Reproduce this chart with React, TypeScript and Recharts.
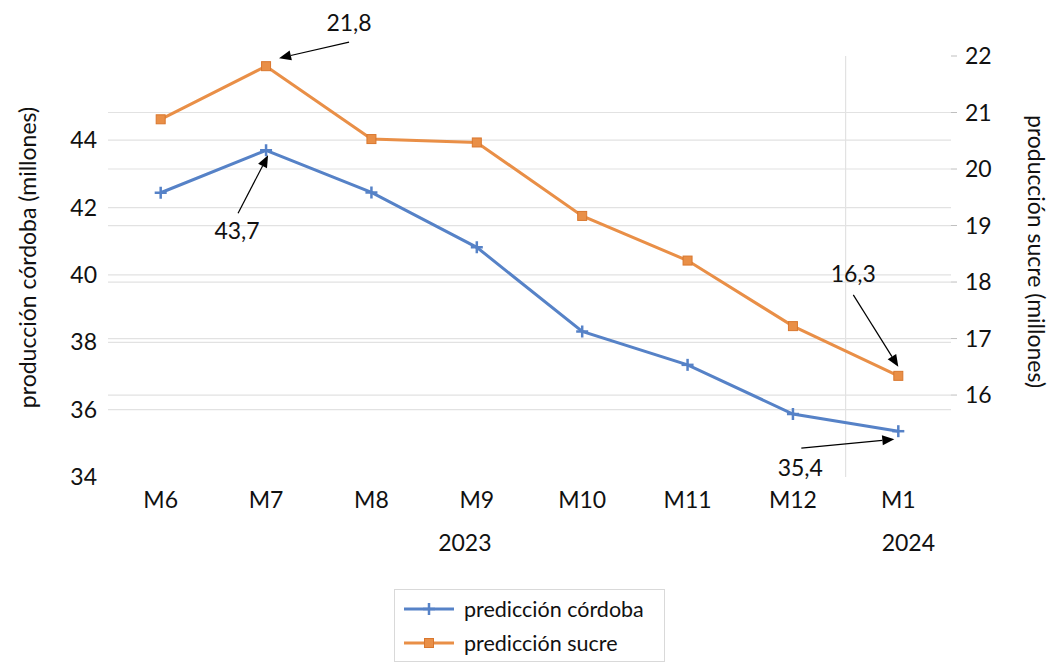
import React from "react";
import {
  LineChart, Line, XAxis, YAxis, ReferenceLine, Legend, LabelList,
} from "recharts";

const months = ["M6", "M7", "M8", "M9", "M10", "M11", "M12", "M1"];
const cordoba = [42.44, 43.7, 42.45, 40.82, 38.32, 37.33, 35.87, 35.36];
const sucre = [20.88, 21.82, 20.53, 20.47, 19.17, 18.38, 17.22, 16.34];
const leftTicks = [34, 36, 38, 40, 42, 44];
const rightTicks = [16, 17, 18, 19, 20, 21, 22];
const years = [
  { label: "2023", from: 0, to: 6 },
  { label: "2024", from: 7, to: 7 },
];
// which points get an arrow + value callout
const callouts = [
  { series: "sucre", index: 1 },
  { series: "cordoba", index: 1 },
  { series: "sucre", index: 7 },
  { series: "cordoba", index: 7 },
];

// offsets of callout (tail, tip, text) relative to the point, in px
const CALLOUT_POS: Record<string, { tail: number[]; tip: number[]; text: number[] }> = {
  "sucre-1": { tail: [83, -24], tip: [13, -8], text: [83, -44] },
  "cordoba-1": { tail: [-28, 63], tip: [2, 5], text: [-29, 80] },
  "sucre-7": { tail: [-45, -81], tip: [0, -9], text: [-45, -103] },
  "cordoba-7": { tail: [-97, 17], tip: [-4, 8], text: [-98, 36] },
};

const BLUE = "#5682c7";
const ORANGE = "#e98f47";
const GRID = "#e2e2e2";
const FONT = "Lato, 'Open Sans', sans-serif";
const TEXT = "#111";

const data = months.map((m, i) => ({ idx: i, month: m, cordoba: cordoba[i], sucre: sucre[i] }));

const yearCenter = (g: { from: number; to: number }) => (g.from + g.to) / 2;

const fmt = (v: number) => v.toFixed(1).replace(".", ",");

function PlusDot(props: any) {
  const { cx, cy, index } = props;
  if (cx == null || cy == null) return null;
  return (
    <g key={`p${index}`}>
      <line x1={cx - 6} x2={cx + 6} y1={cy} y2={cy} stroke={BLUE} strokeWidth={2.5} />
      <line x1={cx} x2={cx} y1={cy - 6} y2={cy + 6} stroke={BLUE} strokeWidth={2.5} />
    </g>
  );
}

function SquareDot(props: any) {
  const { cx, cy, index } = props;
  if (cx == null || cy == null) return null;
  return <rect key={`s${index}`} x={cx - 4.5} y={cy - 4.5} width={9} height={9} fill={ORANGE} stroke="#d9772e" strokeWidth={1} />;
}

function Arrow({ x1, y1, x2, y2 }: { x1: number; y1: number; x2: number; y2: number }) {
  const a = Math.atan2(y2 - y1, x2 - x1);
  const len = 12;
  const w = 5;
  const bx = x2 - len * Math.cos(a);
  const by = y2 - len * Math.sin(a);
  const px = -Math.sin(a) * w;
  const py = Math.cos(a) * w;
  return (
    <g>
      <line x1={x1} y1={y1} x2={bx} y2={by} stroke="#000" strokeWidth={1.2} />
      <polygon points={`${x2},${y2} ${bx + px},${by + py} ${bx - px},${by - py}`} fill="#000" />
    </g>
  );
}

const makeCallout = (series: string) => (props: any) => {
  const { x, y, value, index } = props;
  const hit = callouts.find((c) => c.series === series && c.index === index);
  if (!hit) return null;
  const pos = CALLOUT_POS[`${series}-${index}`];
  return (
    <g key={`c-${series}-${index}`}>
      <Arrow x1={x + pos.tail[0]} y1={y + pos.tail[1]} x2={x + pos.tip[0]} y2={y + pos.tip[1]} />
      <text x={x + pos.text[0]} y={y + pos.text[1]} textAnchor="middle" dominantBaseline="central"
        fontFamily={FONT} fontSize={23} fill={TEXT}>
        {fmt(value)}
      </text>
    </g>
  );
};

function MonthTick(props: any) {
  const { x, y, payload } = props;
  const i = payload.value;
  const g = years.find((yy) => yearCenter(yy) === i);
  return (
    <g>
      <text x={x} y={y} dy="0.71em" textAnchor="middle" fontFamily={FONT} fontSize={23} fill={TEXT}>
        {months[i]}
      </text>
      {g && (
        <text x={x + (g.to > g.from ? -12 : 10)} y={y + 43} dy="0.71em" textAnchor="middle" fontFamily={FONT} fontSize={23} fill={TEXT}>
          {g.label}
        </text>
      )}
    </g>
  );
}

function LegendBox(props: any) {
  const { payload = [] } = props;
  return (
    <div style={{ border: "1px solid #d9d9d9", height: 73, boxSizing: "border-box", position: "relative", background: "#fff" }}>
      {payload.map((p: any, i: number) => (
        <div key={p.value} style={{ position: "absolute", left: 8, top: 9 + i * 34, display: "flex", alignItems: "center" }}>
          <svg width={52} height={16}>
            <line x1={1} x2={51} y1={8} y2={8} stroke={p.color} strokeWidth={3} />
            {i === 0 ? (
              <>
                <line x1={20} x2={32} y1={8} y2={8} stroke={p.color} strokeWidth={2.5} />
                <line x1={26} x2={26} y1={2} y2={14} stroke={p.color} strokeWidth={2.5} />
              </>
            ) : (
              <rect x={21.5} y={3.5} width={9} height={9} fill={p.color} stroke="#d9772e" />
            )}
          </svg>
          <span style={{ marginLeft: 9, fontFamily: FONT, fontSize: 21.5, color: TEXT, lineHeight: "20px" }}>{p.value}</span>
        </div>
      ))}
    </div>
  );
}

export default function App() {
  return (
    <div style={{ position: "absolute", left: 0, top: 0, width: 1052, height: 664, background: "#fff" }}>
      <LineChart width={1052} height={664} data={data} margin={{ top: 56, right: 0, bottom: 102, left: 0 }}>
        <XAxis xAxisId="main" dataKey="idx" type="number" domain={[-0.5, 7.5]} ticks={months.map((_, i) => i)}
          axisLine={false} tickLine={false} tickSize={6} tickMargin={9} height={85}
          tick={<MonthTick />} interval={0} />
        <YAxis yAxisId="left" orientation="left" domain={[34, 46.5]} ticks={leftTicks} width={108}
          axisLine={false} tickLine={false} tickSize={4} tickMargin={7} allowDataOverflow
          tick={{ fontFamily: FONT, fontSize: 23, fill: TEXT }}
          label={{
            content: (p: any) => {
              const vb = p.viewBox;
              const cx = vb.x + 27;
              const cy = vb.y + vb.height / 2 - 9;
              return (
                <text x={cx} y={cy} transform={`rotate(-90 ${cx} ${cy})`} textAnchor="middle" dominantBaseline="central"
                  fontFamily={FONT} fontSize={23} fill={TEXT}>producción córdoba (millones)</text>
              );
            },
          }} />
        <YAxis yAxisId="right" orientation="right" domain={[14.55, 22]} ticks={rightTicks} width={101}
          axisLine={false} tickLine={{ stroke: "#bfbfbf" }} tickSize={6} tickMargin={8} allowDataOverflow
          tick={{ fontFamily: FONT, fontSize: 23, fill: TEXT }}
          label={{
            content: (p: any) => {
              const vb = p.viewBox;
              const cx = vb.x + 86;
              const cy = vb.y + vb.height / 2 - 15;
              return (
                <text x={cx} y={cy} transform={`rotate(90 ${cx} ${cy})`} textAnchor="middle" dominantBaseline="central"
                  fontFamily={FONT} fontSize={23} fill={TEXT}>producción sucre (millones)</text>
              );
            },
          }} />

        {leftTicks.filter((t) => t > 34).map((t) => (
          <ReferenceLine key={`gl${t}`} xAxisId="main" yAxisId="left" y={t} stroke={GRID} strokeWidth={1.2} />
        ))}
        {rightTicks.filter((t) => t < 22).map((t) => (
          <ReferenceLine key={`gr${t}`} xAxisId="main" yAxisId="right" y={t} stroke={GRID} strokeWidth={1.2} />
        ))}
        <ReferenceLine xAxisId="main" yAxisId="left" x={years[0].to + 0.5} stroke={GRID} strokeWidth={1.2} />

        <Line xAxisId="main" yAxisId="left" dataKey="cordoba" name="predicción córdoba" stroke={BLUE} strokeWidth={3}
          dot={PlusDot} activeDot={false} isAnimationActive={false}>
          <LabelList dataKey="cordoba" content={makeCallout("cordoba")} />
        </Line>
        <Line xAxisId="main" yAxisId="right" dataKey="sucre" name="predicción sucre" stroke={ORANGE} strokeWidth={3}
          dot={SquareDot} activeDot={false} isAnimationActive={false}>
          <LabelList dataKey="sucre" content={makeCallout("sucre")} />
        </Line>

        <Legend layout="vertical" align="center" verticalAlign="middle" content={<LegendBox />}
          wrapperStyle={{ left: 394, top: 589, width: 271, height: 73 }} />
      </LineChart>
    </div>
  );
}
